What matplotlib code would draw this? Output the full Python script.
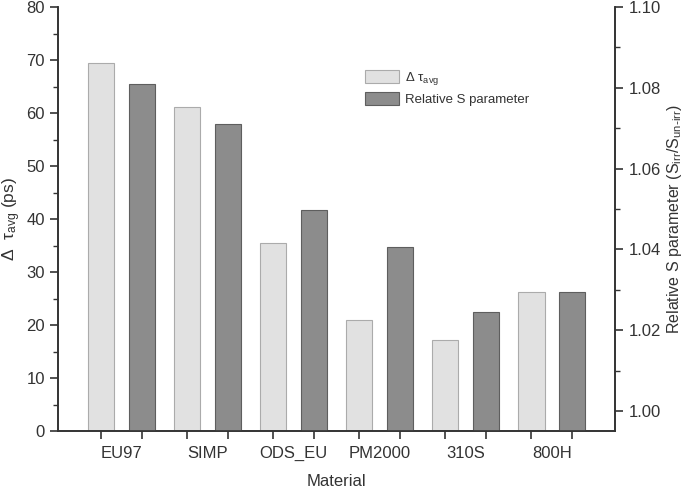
import numpy as np
import matplotlib.pyplot as plt
from matplotlib.ticker import MultipleLocator

plt.rcParams['font.family'] = ['Liberation Sans', 'DejaVu Sans']
plt.rcParams['mathtext.default'] = 'regular'

materials = ['EU97', 'SIMP', 'ODS_EU', 'PM2000', '310S', '800H']
delta_tau = [69.4, 61.1, 35.5, 21.1, 17.2, 26.2]
rel_s = [1.0809, 1.0711, 1.0498, 1.0407, 1.0245, 1.0295]

txt = '#333333'
fig = plt.figure(figsize=(6.85, 4.9), dpi=100)
ax = fig.add_axes([0.0847, 0.1194, 0.8133, 0.8663])
ax2 = ax.twinx()

x = np.arange(len(materials))
off = 0.238
w = 0.31
b1 = ax.bar(x - off, delta_tau, w, color='#e1e1e1', edgecolor='#ababab', lw=0.8)
b2 = ax2.bar(x + off, rel_s, w, bottom=0, color='#8c8c8c', edgecolor='#5e5e5e', lw=0.8)

ax.set_xlim(-0.738, 5.738)
ax.set_ylim(0, 80)
ax2.set_ylim(0.9949, 1.10)

ax.yaxis.set_major_locator(MultipleLocator(10))
ax.yaxis.set_minor_locator(MultipleLocator(5))
ax2.yaxis.set_major_locator(MultipleLocator(0.02))
ax2.yaxis.set_minor_locator(MultipleLocator(0.01))
ax2.yaxis.set_major_formatter(plt.FormatStrFormatter('%.2f'))

ax.set_xticks(np.concatenate([x - off, x + off]))
ax.set_xticklabels([])
for i, m in enumerate(materials):
    ax.text(i, -0.033, m, transform=ax.get_xaxis_transform(), ha='center', va='top',
            fontsize=12, color=txt)

for a in (ax, ax2):
    a.spines['top'].set_visible(False)
    for s in a.spines.values():
        s.set_color('#333333')
        s.set_linewidth(1.2)
    a.tick_params(which='major', length=6, width=1.2, color='#333333',
                  labelsize=12, labelcolor=txt)
    a.tick_params(which='minor', length=3.5, width=1.0, color='#333333')
ax.tick_params(axis='x', length=6)

ax.set_xlabel('Material', fontsize=12, color=txt, labelpad=21)
ax.set_ylabel('Δ  τ$_{avg}$ (ps)', fontsize=12.5, color=txt, labelpad=2)
ax2.set_ylabel(r'Relative S parameter (S$_{irr}$/S$_{un\text{-}irr}$)',
               fontsize=11.5, color=txt, labelpad=3)

ax2.legend([b1, b2], ['Δ τ$_{avg}$', 'Relative S parameter'],
           loc='upper left', bbox_to_anchor=(0.53, 0.88), frameon=False,
           fontsize=9.5, handlelength=2.6, handleheight=1.1, labelspacing=0.4,
           handletextpad=0.4, labelcolor=txt)

fig.savefig('out.png', dpi=100)
